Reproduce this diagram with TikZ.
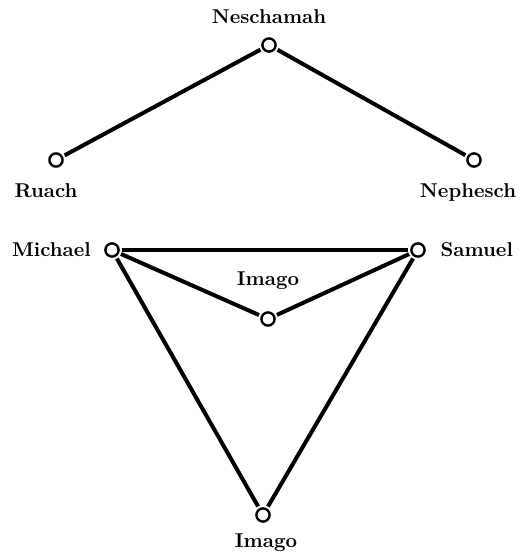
\documentclass[tikz,border=0pt]{standalone}
\usepackage{tikz}

\tikzset{
  soul/.style={circle,draw,line width=1.2pt,minimum size=6.6pt,inner sep=0pt,outer sep=1.6pt},
  tag/.style={font=\bfseries,inner sep=0pt},
  link/.style={line width=2pt}
}

\begin{document}
\begin{tikzpicture}[x=0.5pt,y=-0.5pt]

\useasboundingbox (0,0) rectangle (521,555);

% Upper triad
\node[soul,label={[tag,label distance=5.5pt]above:Neschamah}] (neschamah) at (269,45) {};
\node[soul,label={[tag,label distance=6.75pt,xshift=-5pt]below:Ruach}] (ruach) at (56,160) {};
\node[soul,label={[tag,label distance=6.75pt,xshift=-3pt]below:Nephesch}] (nephesch) at (474,160) {};

% Lower triangle
\node[soul,label={[tag,label distance=5.5pt]left:Michael}] (michael) at (112,250) {};
\node[soul,label={[tag,label distance=6.25pt]right:Samuel}] (samuel) at (418,250) {};
\node[soul,label={[tag,label distance=9.75pt]above:Imago}] (imago) at (268,319) {};
\node[soul,label={[tag,label distance=4.25pt,xshift=1.5pt]below:Imago}] (imagolow) at (263,515) {};

% Lines
\draw[link] (neschamah) -- (ruach);
\draw[link] (neschamah) -- (nephesch);
\draw[link] (michael) -- (samuel);
\draw[link] (michael) -- (imago);
\draw[link] (samuel) -- (imago);
\draw[link] (michael) -- (imagolow);
\draw[link] (samuel) -- (imagolow);

\end{tikzpicture}
\end{document}
